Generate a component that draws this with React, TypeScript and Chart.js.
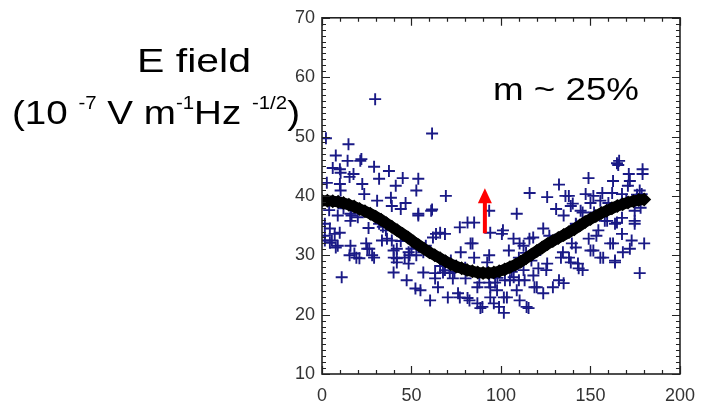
import React, { useEffect, useRef } from "react";
import { Chart, registerables } from "chart.js";

Chart.register(...registerables);

// ---- data ----
const xTickValues = [0, 50, 100, 150, 200];
const yTickValues = [10, 20, 30, 40, 50, 60, 70];

const scatterX = [
  29.7, 61.5, 2.2, 14.8, 7.7, 22, 14.3, 21.4, 6, 10, 29.1, 37.4, 17.6, 15.4, 10.4, 31.9, 45.1, 53.8, 2.7, 10,
  22.5, 41.2, 52.7, 69.2, 23.6, 38.5, 10.4, 30.8, 39, 46.7, 44, 61.5, 53.8, 61, 16.5, 8.8, 15.9, 15.9, 31.9, 35.7,
  4.4, 1.6, 9.9, 53.8, 85, 77, 81.3, 66,
  1.6, 5.5, 1.6, 7.1, 4.4, 8.8, 7.7, 15.9, 15.4, 19.2, 18.1, 20.9, 24.7, 25.3, 26.4, 29.1, 28, 11, 33.5, 36.3,
  39, 40, 41.8, 40.1, 41.8, 46.2, 48.4, 48.9, 48.4, 50, 52.7, 56.6, 40, 41.8, 47.3, 52.2, 55, 56.6, 60.4, 62,
  63.7, 68.7, 63.2, 64.8, 63.2, 67.6, 68.7, 71.4, 73.1, 70.3, 72, 76, 77, 77.5, 80.2, 83, 84.1, 85, 82.4, 81.3,
  86.8, 86.8, 87.9, 89.6, 88.5, 92.3, 93.4, 94, 96, 93.4, 96.7, 98.9, 101.6, 94, 97.8, 101.6, 103.3, 102.2, 105, 107.1,
  110, 108.8, 110.4, 114.3, 115.4, 113.2, 112.6, 118.1, 118.7, 120, 123.6, 129, 132.4, 135, 120.9, 125.3, 125.8, 117, 110, 104.4,
  93.4, 94, 100.5, 101.1, 107, 110.4, 112.6, 115.9, 118, 123.6, 127, 108.8, 116, 125.8, 132.4, 136, 130.8, 135, 139, 141.8,
  145.6, 137.9, 140.1,
  164.8, 166, 165.5, 179.1, 179.1, 171.4, 148.9, 162.6, 172, 170.9, 177.5, 147.3, 151.6, 156.6, 162.1, 167.6, 178.6, 150, 155.5, 144.5,
  174.7, 178, 158, 159.3, 163.7, 164.8, 167.6, 174.7, 174.7, 167.6, 154.4, 149, 153.3, 161, 162.6, 173, 180, 172, 168.1, 151.6,
  150, 155.5, 157.1, 163.7, 163.7, 134.6, 138, 133.5, 139.6, 141.8, 143, 145.6, 143.4, 177.5, 139,
  4, 12, 20, 26, 34, 44, 58, 66, 74, 80, 98, 106, 114, 122, 130, 142, 152, 160, 170, 176,
];
const scatterY = [
  56.3, 50.5, 49.7, 48.7, 46.8, 46.2, 45.9, 45.9, 44.7, 44.5, 44.9, 44.2, 43.7, 43.2, 43.9, 42.9, 43.0, 42.9, 42.2, 42,
  42, 41.7, 40.9, 40, 40.3, 39.7, 40.9, 39.2, 38.3, 38.8, 37.8, 37.7, 37, 37.5, 36.7, 36.7, 37, 35.8, 35.3, 34.2,
  34.5, 35.3, 33.8, 36.7, 35.5, 34.7, 35.5, 33.8,
  32.5, 32.5, 33.3, 33.6, 32.1, 31.6, 31.3, 31.6, 30, 29.6, 30.3, 29.5, 32, 31.1, 31.1, 29.6, 30, 26.3, 32.5, 32.8,
  32.5, 30.8, 31.1, 29.6, 29.5, 29.6, 30.5, 30, 28.6, 31.1, 30, 30.5, 27.1, 28.8, 25.8, 24.4, 24.1, 27.1, 22.4, 33,
  33.6, 33.6, 27, 24.6, 26.1, 27.1, 27.5, 27, 26.1, 22.9, 29.1, 23.6, 22.9, 30.5, 26.1, 32, 32, 29.6, 22.4, 22.8,
  24.6, 21.9, 25.4, 21.3, 21.1, 28.8, 30, 22.9, 21.9, 25.4, 25.4, 21.3, 20.3, 24.6, 24.1, 22.9, 22.9, 25.8, 25.8, 26.3,
  25.8, 24.1, 22.4, 21.3, 21.1, 25.8, 27.5, 26.6, 24.6, 24.6, 23.6, 24.6, 25.8, 25.3, 27.8, 27.5, 28.6, 29.1, 29.6, 30.8,
  37.5, 33.8, 33.6, 34.2, 32.8, 32, 31.6, 32.8, 33, 34.5, 33.3, 37, 40.5, 39.8, 41.9, 40, 37.8, 36.7, 38.3, 35.3,
  37.2, 40, 38.7,
  45.5, 45.9, 45.2, 44.5, 43.7, 43.7, 43, 42.5, 42.5, 41.7, 40.9, 40.3, 40, 40.5, 40.5, 40.3, 40.3, 38.8, 39.2, 37.5,
  37.5, 38, 35.8, 35.8, 35.3, 35.5, 36.3, 35.8, 35.3, 33.6, 34.2, 32.8, 33.3, 32, 32, 32.5, 32, 31.1, 30.5, 30.8,
  30.8, 29.6, 29.6, 29.1, 28.8, 30.5, 29.6, 29.6, 32, 31.3, 28.6, 27.5, 27.8, 27, 28.8,
  37.6, 37.9, 36.4, 34.6, 34.8, 32.4, 31.6, 28.2, 27.2, 27.9, 26.2, 27.2, 30.4, 30.9, 32.6, 35.2, 37.2, 38.8, 39.4, 40.2,
];

const curveX = [
  0, 3, 6, 9, 12, 15, 18, 21, 24, 27, 30, 33, 36, 39, 42, 45, 48, 51, 54, 57, 60,
  63, 66, 69, 72, 75, 78, 81, 84, 87, 90, 93, 96, 99, 102, 105, 108, 111, 114, 117, 120,
  123, 126, 129, 132, 135, 138, 141, 144, 147, 150, 153, 156, 159, 162, 165, 168, 171, 174, 177, 180,
];
const curveY = [
  39.2, 39.2, 39.1, 39.0, 38.8, 38.5, 38.2, 37.8, 37.4, 37.0, 36.5, 36.0, 35.4, 34.8, 34.2, 33.6, 33.0, 32.3, 31.7, 31.1, 30.5,
  30.0, 29.5, 29.0, 28.5, 28.1, 27.8, 27.5, 27.3, 27.1, 27.0, 27.0, 27.1, 27.3, 27.6, 28.0, 28.4, 28.9, 29.5, 30.1, 30.7,
  31.3, 31.9, 32.4, 32.9, 33.4, 33.9, 34.4, 35.0, 35.6, 36.1, 36.6, 37.1, 37.5, 37.9, 38.3, 38.6, 38.9, 39.1, 39.3, 39.4,
];

const arrowX = 91;
const arrowFromY = 33.7;
const arrowToY = 41.3;

const titleText = "E field";
const unitPieces: { t: string; sup: boolean }[] = [
  { t: "(10 ", sup: false },
  { t: "-7", sup: true },
  { t: " V m", sup: false },
  { t: "-1", sup: true },
  { t: "Hz ", sup: false },
  { t: "-1/2", sup: true },
  { t: ")", sup: false },
];
const modText = "m ~ 25%";

const FONT = "'Liberation Sans', Arial, Helvetica, sans-serif";

function drawFitted(ctx: CanvasRenderingContext2D, text: string, x: number, y: number, size: number, targetW: number) {
  ctx.font = `${size}px ${FONT}`;
  const w = ctx.measureText(text).width;
  ctx.save();
  ctx.translate(x, y);
  ctx.scale(targetW / w, 1);
  ctx.fillText(text, 0, 0);
  ctx.restore();
}

const decorPlugin = {
  id: "decor",
  afterDatasetsDraw(chart: any) {
    const { ctx, chartArea: a, scales } = chart;
    const xs = scales.x;
    const ys = scales.y;
    ctx.save();
    ctx.strokeStyle = "#222";
    ctx.lineWidth = 1.6;
    ctx.strokeRect(a.left, a.top, a.right - a.left, a.bottom - a.top);
    ctx.lineWidth = 1.2;
    ctx.beginPath();
    for (let v = 0; v <= 200; v += 10) {
      const px = Math.round(xs.getPixelForValue(v)) + 0.5;
      const len = v % 50 === 0 ? 8 : 4;
      ctx.moveTo(px, a.bottom);
      ctx.lineTo(px, a.bottom - len);
      ctx.moveTo(px, a.top);
      ctx.lineTo(px, a.top + len);
    }
    for (let v = 10; v <= 70; v += 1) {
      const py = Math.round(ys.getPixelForValue(v)) + 0.5;
      const len = v % 10 === 0 ? 8 : 4;
      ctx.moveTo(a.left, py);
      ctx.lineTo(a.left + len, py);
      ctx.moveTo(a.right, py);
      ctx.lineTo(a.right - len, py);
    }
    ctx.stroke();

    const ax = xs.getPixelForValue(arrowX);
    const ay0 = ys.getPixelForValue(arrowFromY);
    const ay1 = ys.getPixelForValue(arrowToY);
    ctx.fillStyle = "#ff0000";
    ctx.fillRect(ax - 2, ay1 + 14, 4, ay0 - ay1 - 14);
    ctx.beginPath();
    ctx.moveTo(ax, ay1);
    ctx.lineTo(ax - 7, ay1 + 15);
    ctx.lineTo(ax + 7, ay1 + 15);
    ctx.closePath();
    ctx.fill();
    ctx.restore();
  },
  afterDraw(chart: any) {
    const ctx: CanvasRenderingContext2D = chart.ctx;
    ctx.save();
    ctx.fillStyle = "#000";
    ctx.textBaseline = "alphabetic";
    ctx.textAlign = "left";
    drawFitted(ctx, titleText, 137, 72, 34, 114);
    drawFitted(ctx, modText, 493, 100, 31, 146);

    const normal = 34;
    const sup = 18;
    let total = 0;
    const widths = unitPieces.map((p) => {
      ctx.font = `${p.sup ? sup : normal}px ${FONT}`;
      const w = ctx.measureText(p.t).width;
      total += w;
      return w;
    });
    const sx = 288 / total;
    ctx.translate(12, 124);
    ctx.scale(sx, 1);
    let cx = 0;
    unitPieces.forEach((p, i) => {
      ctx.font = `${p.sup ? sup : normal}px ${FONT}`;
      ctx.fillText(p.t, cx, p.sup ? -15 : 0);
      cx += widths[i];
    });
    ctx.restore();
  },
};

export default function App() {
  const ref = useRef<HTMLCanvasElement | null>(null);
  useEffect(() => {
    if (!ref.current) return;
    const scatterData = scatterX.map((x, i) => ({ x, y: scatterY[i] }));
    const curveData = curveX.map((x, i) => ({ x, y: curveY[i] }));
    const chart = new Chart(ref.current, {
      type: "scatter",
      data: {
        datasets: [
          {
            label: "fit",
            data: curveData,
            showLine: true,
            borderColor: "#000",
            backgroundColor: "#000",
            borderWidth: 11,
            pointStyle: "rectRot",
            pointRadius: 7,
            pointBorderWidth: 0,
            tension: 0,
          },
          {
            label: "E",
            data: scatterData,
            pointStyle: "cross",
            pointRadius: 6,
            pointBorderWidth: 1.9,
            borderColor: "#1a1a86",
            backgroundColor: "#1a1a86",
            showLine: false,
          },
        ],
      },
      options: {
        animation: false,
        responsive: true,
        maintainAspectRatio: false,
        layout: { padding: { top: 16, right: 20, left: 0, bottom: 0 } },
        plugins: { legend: { display: false }, tooltip: { enabled: false } },
        scales: {
          x: {
            type: "linear",
            min: 0,
            max: 200,
            afterFit: (s: any) => {
              s.height = 33;
            },
            afterBuildTicks: (s: any) => {
              s.ticks = xTickValues.map((v) => ({ value: v }));
            },
            grid: { display: false, drawTicks: false },
            border: { display: false },
            ticks: {
              padding: 11,
              color: "#333",
              font: { family: FONT, size: 18 },
              maxRotation: 0,
            },
          },
          y: {
            type: "linear",
            min: 10,
            max: 70,
            afterFit: (s: any) => {
              s.width = 322;
            },
            afterBuildTicks: (s: any) => {
              s.ticks = yTickValues.map((v) => ({ value: v }));
            },
            grid: { display: false, drawTicks: false },
            border: { display: false },
            ticks: {
              padding: 7,
              color: "#333",
              font: { family: FONT, size: 18 },
            },
          },
        },
      },
      plugins: [decorPlugin],
    });
    return () => chart.destroy();
  }, []);
  return (
    <div style={{ position: "fixed", left: 0, top: 0, width: 706, height: 407, background: "#fff" }}>
      <canvas ref={ref} />
    </div>
  );
}
